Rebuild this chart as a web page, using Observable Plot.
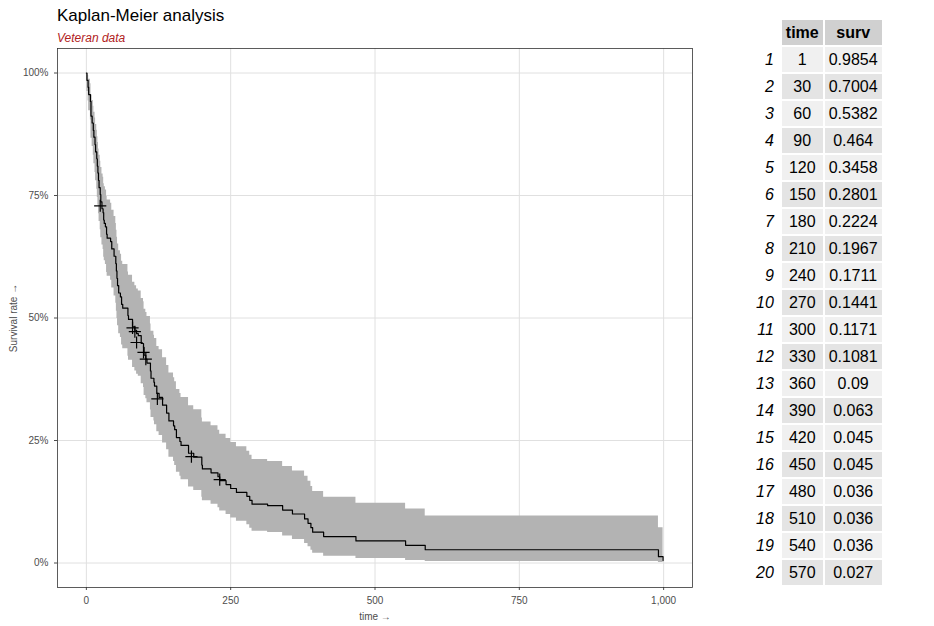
<!DOCTYPE html>
<html><head><meta charset="utf-8">
<script src="https://cdn.jsdelivr.net/npm/d3@7"></script>
<script src="https://cdn.jsdelivr.net/npm/@observablehq/plot@0.6"></script>
<style>
body{margin:0;font-family:"Liberation Sans",Arial,sans-serif;background:#fff;}
#wrap{position:relative;width:934px;height:626px;}
#title{position:absolute;left:57px;top:6px;font-size:17px;color:#000;}
#sub{position:absolute;left:57px;top:31px;font-size:12px;font-style:italic;color:#b22222;}
#chart{position:absolute;left:0;top:48px;}
#tbl{position:absolute;left:750px;top:18px;border-collapse:separate;border-spacing:2px 2px;font-size:16px;}
#tbl td,#tbl th{height:25px;padding:0 4px;text-align:center;}
#tbl th{background:#d0d0d0;font-weight:bold;}
#tbl td.n{font-style:italic;text-align:right;background:none;padding-right:6px;}
#tbl tr:nth-child(odd) td.v{background:#e4e4e4;}
#tbl tr:nth-child(even) td.v{background:#f0f0f0;}
</style></head>
<body><div id="wrap">
<div id="title">Kaplan-Meier analysis</div>
<div id="sub">Veteran data</div>
<div id="chart"></div>
<table id="tbl"></table>
</div>
<script>
// KM steps
const times = [0,1,3,4,7,8,10,12,13,15,16,18,19,20,21,22,24,25,27,29,30,31,33,35,36,42,44,48,51,52,53,54,56,59,61,63,72,73,80,84,87,90,95,99,100,103,105,111,112,117,118,122,126,132,139,143,151,153,156,162,164,177,186,200,201,216,228,231,242,250,260,278,283,287,314,340,357,378,384,389,392,411,467,553,587,991,999];
const surv  = [1,.985,.971,.956,.942,.912,.898,.883,.869,.854,.839,.825,.810,.796,.781,.766,.752,.737,.723,.715,.700,.693,.686,.671,.663,.656,.641,.626,.611,.596,.581,.566,.551,.543,.528,.520,.505,.497,.482,.475,.468,.464,.448,.440,.424,.416,.408,.392,.377,.369,.361,.346,.338,.322,.306,.290,.280,.272,.256,.248,.240,.224,.216,.200,.192,.184,.176,.168,.160,.152,.144,.136,.128,.120,.117,.108,.100,.090,.081,.072,.063,.054,.045,.036,.027,.013,.005];
const lower = [1,.962,.943,.923,.904,.867,.850,.832,.815,.797,.780,.763,.746,.730,.713,.697,.680,.664,.649,.640,.624,.617,.609,.593,.585,.577,.561,.545,.530,.514,.499,.484,.468,.460,.445,.437,.422,.414,.399,.392,.385,.381,.366,.358,.342,.335,.327,.312,.297,.290,.282,.268,.260,.245,.231,.216,.207,.199,.185,.177,.170,.155,.148,.134,.127,.120,.113,.106,.099,.092,.085,.078,.071,.065,.062,.055,.048,.040,.033,.026,.020,.014,.009,.005,.003,.001,0];
const upper = [1,.999,.995,.987,.978,.955,.944,.932,.920,.908,.895,.883,.870,.858,.845,.832,.820,.807,.794,.787,.774,.768,.761,.748,.741,.734,.720,.707,.693,.679,.665,.651,.637,.630,.616,.609,.594,.587,.573,.566,.559,.555,.540,.533,.518,.511,.503,.488,.473,.465,.458,.442,.435,.419,.403,.388,.378,.370,.354,.346,.338,.321,.313,.296,.288,.280,.271,.263,.254,.246,.237,.228,.220,.211,.207,.197,.188,.177,.167,.156,.146,.134,.122,.110,.096,.072,.068];
// censored observations
const censT = [24,80,84,87,99,103,123,182,231];
const censS = [.729,.480,.472,.450,.430,.416,.335,.217,.170];
// table
const tabTime = [1,30,60,90,120,150,180,210,240,270,300,330,360,390,420,450,480,510,540,570];
const tabSurv = ["0.9854","0.7004","0.5382","0.464","0.3458","0.2801","0.2224","0.1967","0.1711","0.1441","0.1171","0.1081","0.09","0.063","0.045","0.045","0.036","0.036","0.036","0.027"];

const km = times.map((t,i)=>({t, s:surv[i], lo:lower[i], hi:upper[i]}));
const cens = censT.map((t,i)=>({t, s:censS[i]}));

const chart = Plot.plot({
  width: 700, height: 578,
  marginLeft: 57, marginRight: 8, marginTop: 0, marginBottom: 39,
  style: {fontFamily: '"Liberation Sans",Arial,sans-serif', fontSize: 10, color: '#4d4d4d'},
  x: {domain: [-50,1050], ticks: [0,250,500,750,1000], label: "time", labelAnchor: "center", labelOffset: 32, grid: true, tickSize: 3},
  y: {domain: [-0.05,1.05], ticks: [0,.25,.5,.75,1], tickFormat: d => Math.round(d*100)+"%", label: "Survival rate", labelAnchor: "center", labelOffset: 48, grid: true, tickSize: 3},
  marks: [
    Plot.frame({stroke: "#333", strokeWidth: 0.8}),
    Plot.areaY(km, {x: "t", y1: "lo", y2: "hi", curve: "step-after", fill: "#b3b3b3"}),
    Plot.line(km, {x: "t", y: "s", curve: "step-after", stroke: "black", strokeWidth: 1.2}),
    Plot.dot(cens, {x: "t", y: "s", symbol: "plus", r: 4, stroke: "black", strokeWidth: 1.2})
  ]
});
chart.querySelectorAll('[aria-label$="grid"] line, [aria-label$="grid"] path').forEach(e => { e.setAttribute("stroke", "#e0e0e0"); e.setAttribute("stroke-opacity", 1); });
document.getElementById("chart").append(chart);

const tb = d3.select("#tbl");
const hr = tb.append("tr");
hr.append("td").attr("class","n");
hr.append("th").text("time");
hr.append("th").text("surv");
tabTime.forEach((t,i)=>{
  const r = tb.append("tr");
  r.append("td").attr("class","n").text(i+1);
  r.append("td").attr("class","v").text(t);
  r.append("td").attr("class","v").text(tabSurv[i]);
});
</script>
</body></html>
